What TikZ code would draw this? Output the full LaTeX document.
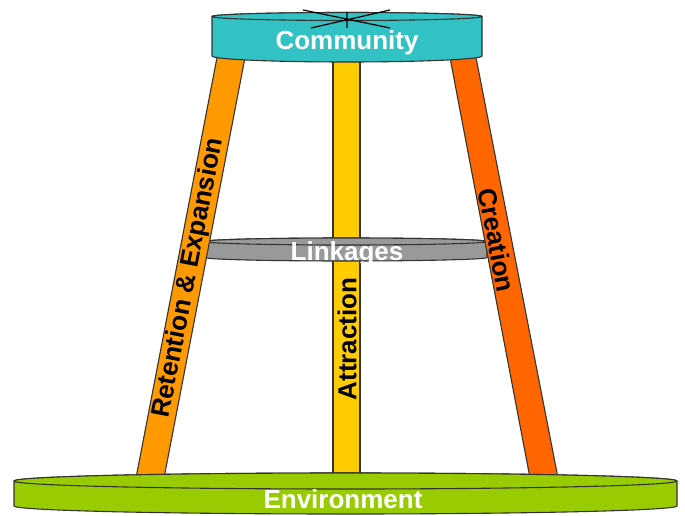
\documentclass[tikz,border=0pt]{standalone}
\usepackage{fontspec}
\setmainfont{Liberation Sans}
\definecolor{seatteal}{RGB}{51,194,196}
\definecolor{legleft}{RGB}{255,153,0}
\definecolor{legmid}{RGB}{255,204,0}
\definecolor{legright}{RGB}{255,102,0}
\definecolor{ringgray}{RGB}{153,153,153}
\definecolor{basegreen}{RGB}{153,204,0}
\begin{document}
\begin{tikzpicture}
            [x=1pt, y=1pt, line join=round,
             part/.style={draw=black!80, line width=1.1pt},
             lbl/.style={font=\fontsize{26}{26}\selectfont\bfseries, inner sep=0pt}]
            \useasboundingbox (0,0) rectangle (685,515);

            % legs behind the ring
            \filldraw[part, fill=legmid] (333,460) rectangle (360,37);

            % linkages ring
            \filldraw[part, fill=ringgray] (205,273.5) -- (205,257.5) arc[start angle=180, end angle=360, x radius=141, y radius=3.5] -- (487,273.5) arc[start angle=0, end angle=180, x radius=141, y radius=3.5] -- cycle;
            \filldraw[part, fill=ringgray] (346,273.5) ellipse[x radius=141, y radius=3.5];

            % outer legs
            \filldraw[part, fill=legleft] (217.5,460) -- (245.5,460) -- (164,37) -- (136,37) -- cycle;
            \filldraw[part, fill=legright] (449.5,460) -- (475.5,460) -- (558,37) -- (530,37) -- cycle;

            % seat
            \filldraw[part, fill=seatteal] (212,498.5) -- (212,459) arc[start angle=180, end angle=360, x radius=135, y radius=6] -- (482,498.5) arc[start angle=0, end angle=180, x radius=135, y radius=4] -- cycle;
            \filldraw[part, fill=seatteal] (347,498.5) ellipse[x radius=135, y radius=4];
            \draw[black, line width=1.2pt] (303,505) -- (390,487) (311,487) -- (390,505) (347,503) -- (347,487);

            % base
            \filldraw[part, fill=basegreen] (14,34) -- (14,9) arc[start angle=180, end angle=360, x radius=331.5, y radius=8] -- (677,34) arc[start angle=0, end angle=180, x radius=331.5, y radius=8] -- cycle;
            \filldraw[part, fill=basegreen] (345.5,34) ellipse[x radius=331.5, y radius=8];

            \node[lbl, white] (community) at (347,472) {Community};
            \node[lbl, white] (linkages) at (347,261) {Linkages};
            \node[lbl, white] (environment) at (343,16) {Environment};
            \node[lbl, rotate=79.1] (retention) at (189,237) {Retention \& Expansion};
            \node[lbl, rotate=90] (attraction) at (347,176) {Attraction};
            \node[lbl, rotate=-79] (creation) at (497,275) {Creation};
        \end{tikzpicture}
\end{document}
